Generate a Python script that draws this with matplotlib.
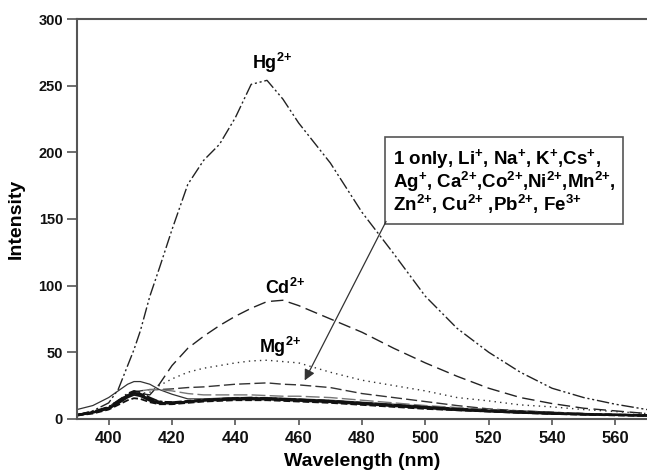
import matplotlib
matplotlib.use("Agg")
import matplotlib.pyplot as plt

plt.rcParams['font.family'] = ['Liberation Sans', 'DejaVu Sans']
plt.rcParams['font.weight'] = 'bold'
plt.rcParams['mathtext.fontset'] = 'custom'
plt.rcParams['mathtext.rm'] = 'Liberation Sans:bold'
plt.rcParams['mathtext.bf'] = 'Liberation Sans:bold'
plt.rcParams['mathtext.default'] = 'bf'

# wavelength grid (nm)
wavelength = [390, 395, 400, 403, 406, 408, 410, 413, 416, 420, 425, 430, 435, 440,
              445, 450, 455, 460, 470, 480, 490, 500, 510, 520, 530, 540, 550, 560, 570]

hg = [3, 6, 12, 22, 40, 52, 66, 92, 113, 142, 176, 194, 206, 226,
      251, 254, 240, 222, 192, 155, 124, 92, 68, 50, 35, 23, 16, 11, 7]
cd = [3, 5, 9, 14, 18, 20, 19, 18, 26, 40, 53, 62, 70, 77,
      83, 88, 89, 85, 75, 65, 53, 42, 32, 23, 16, 11.5, 8, 6, 4]
mg = [3, 5, 9, 14, 18, 20, 19, 20, 25, 30, 35, 38, 40, 42,
      43.5, 44, 43, 42, 35, 29, 25, 21, 16, 13.5, 10.5, 9, 7, 5.5, 4]
dash_a = [3, 5, 8, 13, 18, 20, 21, 22, 22, 22.5, 23.5, 24, 25, 26,
          26.5, 27, 26, 25.5, 23.5, 19, 16, 13, 10, 7.5, 6, 5, 4, 3.5, 3]
solid_a = [7, 10, 16, 21, 26, 28, 28, 26, 22, 18.5, 15, 15, 15.5, 16,
           16, 16, 15.5, 15, 14, 12.5, 11, 9.5, 8, 7, 6, 5, 4, 3.5, 3]
gray_b = [3, 5, 8, 12, 17, 20, 21, 22, 22, 21, 19, 18, 18, 18,
          18, 17.5, 17, 17, 16, 14, 12, 10, 8.5, 7, 5.5, 4.5, 4, 3.5, 3]

# overlapping group (1 only, Li+, Na+, K+, ...)
bunch = [
    [3, 5, 8, 12, 17, 19, 18, 14, 12, 12, 13, 14, 14.5, 15, 15, 15, 14.5, 14, 13, 11.5, 10, 8.5, 7, 6, 5, 4, 3.5, 3, 2.5],
    [3, 5, 8.5, 13, 18, 20, 19, 15, 13, 12.5, 13.5, 14.5, 15, 15.5, 15.5, 15.5, 15, 14.5, 13.5, 12, 10.5, 9, 7.5, 6.5, 5.5, 4.5, 3.8, 3.2, 2.7],
    [2.5, 4.5, 7.5, 11.5, 16, 18, 17, 13.5, 11.5, 11.5, 12.5, 13.5, 14, 14.5, 14.5, 14.5, 14, 13.5, 12.5, 11, 9.5, 8, 6.5, 5.5, 4.5, 3.8, 3.2, 2.8, 2.3],
    [3, 5.5, 9, 13.5, 19, 21, 20, 16, 13, 12.5, 13, 14, 15, 15.5, 16, 15.5, 15, 14.5, 13.5, 12, 10.5, 9, 7.5, 6, 5, 4.2, 3.5, 3, 2.6],
    [2.5, 4, 7, 10.5, 14, 15.5, 15, 12.5, 11, 11, 12, 13, 13.5, 14, 14, 14, 13.5, 13, 12, 10.5, 9, 7.5, 6.5, 5.5, 4.5, 3.7, 3.1, 2.6, 2.2],
    [3, 5, 8, 12.5, 17.5, 19.5, 18.5, 14.5, 12, 12, 13, 14, 14.5, 15, 15, 15, 14.5, 14, 13, 11.5, 10, 8.5, 7, 5.8, 4.8, 4, 3.4, 2.9, 2.5],
]

fig = plt.figure(figsize=(6.47, 4.76), dpi=100)
ax = fig.add_axes([0.119, 0.12, 0.881, 0.84])

ax.plot(wavelength, hg, color='#222222', lw=1.0, dashes=(9, 2, 1.5, 2, 1.5, 2))
ax.plot(wavelength, cd, color='#222222', lw=1.0, dashes=(9, 4))
ax.plot(wavelength, mg, color='#333333', lw=1.0, dashes=(1, 3))
ax.plot(wavelength, dash_a, color='#333333', lw=1.0, dashes=(8, 3))
ax.plot(wavelength, solid_a, color='#333333', lw=0.9)
ax.plot(wavelength, gray_b, color='#777777', lw=1.0, dashes=(10, 3))
styles = ['-', '--', '-', '-.', '--', '-']
for vals, ls in zip(bunch, styles):
    ax.plot(wavelength, vals, color='#111111', lw=1.3, linestyle=ls)

ax.set_xlim(390, 570)
ax.set_ylim(0, 300)
ax.set_xticks(range(400, 561, 20))
ax.set_yticks(range(0, 301, 50))
ax.tick_params(direction='out', width=1.2, colors='#555555', labelcolor='#111111')
ax.tick_params(axis='x', length=4, labelsize=12, pad=5)
ax.tick_params(axis='y', length=7, labelsize=10.5, pad=3)
for side in ['left', 'bottom', 'top']:
    ax.spines[side].set_linewidth(1.5)
    ax.spines[side].set_color('#555555')
ax.spines['right'].set_visible(False)

ax.set_xlabel('Wavelength (nm)', fontsize=14, fontweight='bold', labelpad=5)
ax.set_ylabel('Intensity', fontsize=14, fontweight='bold', labelpad=10)

ax.text(451.5, 267, r'Hg$^{2{+}}$', fontsize=13, ha='center', va='center')
ax.text(455.8, 98, r'Cd$^{2{+}}$', fontsize=13, ha='center', va='center')
ax.text(454, 54, r'Mg$^{2{+}}$', fontsize=13, ha='center', va='center')

ax.text(0.554, 0.68,
        '1 only, Li$^{+}$, Na$^{+}$, K$^{+}$,Cs$^{+}$,\n'
        'Ag$^{+}$, Ca$^{2{+}}$,Co$^{2{+}}$,Ni$^{2{+}}$,Mn$^{2{+}}$,\n'
        'Zn$^{2{+}}$, Cu$^{2{+}}$ ,Pb$^{2{+}}$, Fe$^{3{+}}$',
        transform=ax.transAxes, fontsize=13.5, ha='left', va='top', linespacing=0.95,
        bbox=dict(boxstyle='square,pad=0.4', facecolor='white', edgecolor='#555555', lw=1.2))

ax.annotate('', xy=(461.5, 27), xytext=(488, 150),
            arrowprops=dict(arrowstyle='-|>', color='#333333', lw=0.9, mutation_scale=16))

fig.savefig('out.png', dpi=100)
